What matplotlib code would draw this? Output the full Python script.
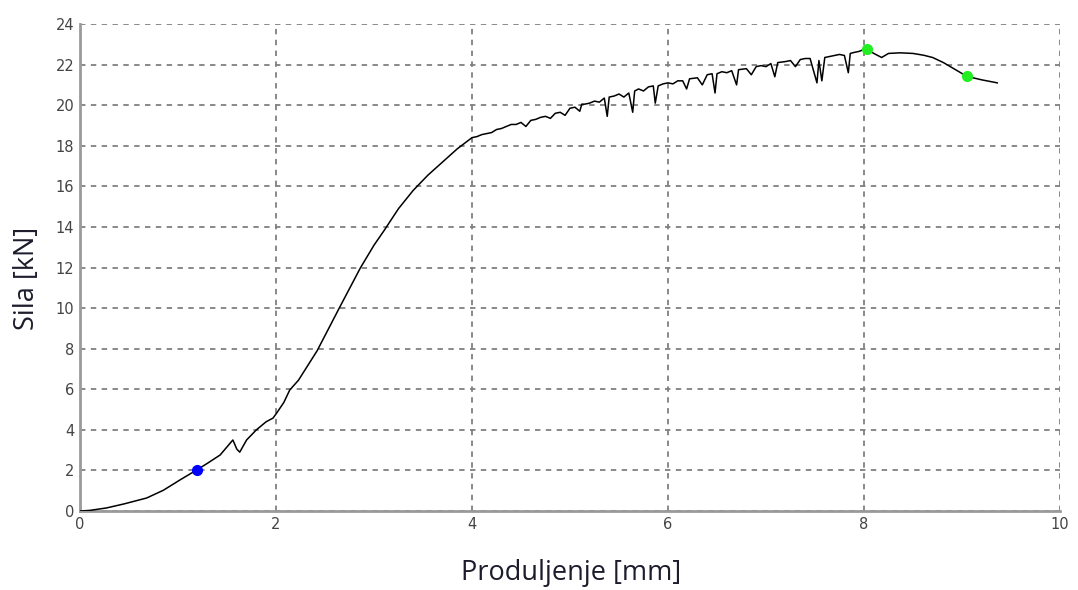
import matplotlib
matplotlib.use("Agg")
import matplotlib.pyplot as plt

# Force-extension curve data
elong = [0.00, 0.10, 0.27, 0.45, 0.68, 0.85, 1.02, 1.19, 1.30, 1.43, 1.56, 1.60, 1.63, 1.70,
         1.80, 1.90, 1.97, 2.01, 2.08, 2.14, 2.23, 2.42, 2.64, 2.86, 3.00, 3.10, 3.25, 3.40, 3.55, 3.70, 3.85, 4.00,
         4.05, 4.10, 4.15, 4.20, 4.25, 4.30, 4.35, 4.40, 4.45, 4.50, 4.55, 4.60, 4.65, 4.70, 4.75,
         4.80, 4.85, 4.90, 4.95, 5.00, 5.05, 5.10, 5.12, 5.15, 5.20, 5.25, 5.30, 5.35, 5.38, 5.40,
         5.45, 5.50, 5.55, 5.60, 5.64, 5.66, 5.70, 5.75, 5.80, 5.85, 5.87, 5.90, 5.95, 6.00, 6.05,
         6.10, 6.15, 6.19, 6.22, 6.30, 6.35, 6.40, 6.45, 6.48, 6.50, 6.55, 6.60, 6.65, 6.70, 6.72,
         6.80, 6.85, 6.90, 6.95, 7.00, 7.05, 7.09, 7.12, 7.20, 7.25, 7.30, 7.35, 7.40, 7.45, 7.52,
         7.54, 7.57, 7.60, 7.65, 7.70, 7.75, 7.80, 7.84, 7.86, 7.90, 7.95, 8.00, 8.03, 8.10, 8.18,
         8.25, 8.37, 8.50, 8.61, 8.70, 8.81, 8.95, 9.05, 9.20, 9.36]
force = [0.00, 0.03, 0.15, 0.35, 0.64, 1.02, 1.53, 2.02, 2.35, 2.76, 3.50, 3.05, 2.90, 3.50,
         4.00, 4.40, 4.58, 4.85, 5.35, 5.96, 6.45, 7.90, 9.95, 11.97, 13.10, 13.80, 14.90, 15.80, 16.55, 17.20, 17.85, 18.40,
         18.45, 18.55, 18.60, 18.65, 18.80, 18.85, 18.95, 19.05, 19.05, 19.15, 18.95, 19.25, 19.30, 19.40, 19.45,
         19.35, 19.60, 19.65, 19.50, 19.85, 19.90, 19.70, 20.05, 20.05, 20.10, 20.20, 20.15, 20.35, 19.45, 20.40,
         20.45, 20.55, 20.40, 20.60, 19.65, 20.70, 20.80, 20.70, 20.90, 20.95, 20.10, 20.95, 21.05, 21.10, 21.05,
         21.20, 21.20, 20.80, 21.30, 21.35, 21.00, 21.50, 21.55, 20.60, 21.55, 21.65, 21.60, 21.70, 21.00, 21.75,
         21.80, 21.50, 21.90, 21.95, 21.90, 22.05, 21.40, 22.10, 22.15, 22.20, 21.90, 22.25, 22.30, 22.30, 21.10,
         22.20, 21.20, 22.35, 22.40, 22.45, 22.50, 22.45, 21.60, 22.55, 22.60, 22.65, 22.75, 22.76, 22.55, 22.35,
         22.55, 22.58, 22.55, 22.46, 22.35, 22.10, 21.70, 21.42, 21.25, 21.10]

blue_x, blue_y = [1.19], [2.02]
green_x, green_y = [8.03, 9.05], [22.76, 21.42]

xticks = [0, 2, 4, 6, 8, 10]
yticks = [0, 2, 4, 6, 8, 10, 12, 14, 16, 18, 20, 22, 24]

fig = plt.figure(figsize=(10.78, 5.90), dpi=100)
ax = fig.add_axes([0.0742, 0.1339, 0.9091, 0.8254])

ax.plot(elong, force, color="black", lw=1.1, zorder=3)
ax.plot(blue_x, blue_y, "o", color="#0000ff", ms=7, zorder=4)
ax.plot(green_x, green_y, "o", color="#22ee22", ms=7, zorder=4)

ax.set_xlim(0, 10)
ax.set_ylim(0, 24)
ax.set_xticks(xticks)
ax.set_yticks(yticks)
ax.tick_params(length=0, labelsize=10.5, colors="#444444", pad=4)

ax.grid(True, color="#808080", linestyle=(0, (3, 3)), lw=1.3)
for s in ["top", "right"]:
    ax.spines[s].set_visible(False)
for s in ["left", "bottom"]:
    ax.spines[s].set_color("#9a9a9a")
    ax.spines[s].set_linewidth(2)

fig.text(571 / 1078, 1 - 573 / 590, "Produljenje [mm]", fontsize=19.5, family="Open Sans",
         color="#1c1c2c", ha="center", va="center")
fig.text(27 / 1078, 1 - 278 / 590, "Sila [kN]", fontsize=19.5, family="Open Sans",
         color="#1c1c2c", ha="center", va="center", rotation=90)

fig.savefig("out.png", dpi=100)
